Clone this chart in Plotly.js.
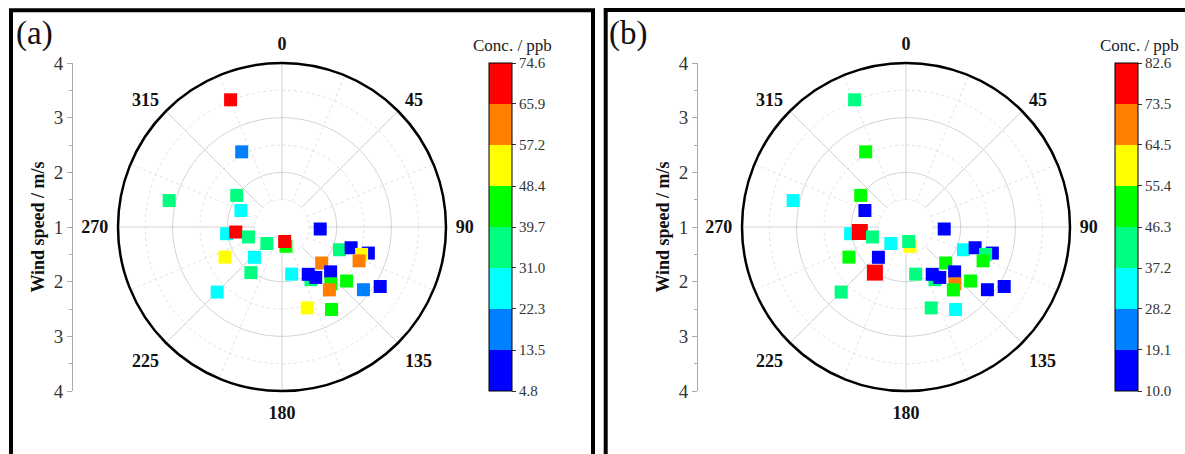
<!DOCTYPE html>
<html>
<head>
<meta charset="utf-8">
<script src="https://cdn.plot.ly/plotly-3.0.1.min.js"></script>
<style>html,body{margin:0;padding:0;background:#fff;}#chart{width:1185px;height:454px;}</style>
</head>
<body>
<div id="chart"></div>
<script>
// Wind direction (deg, clockwise from north) and wind speed (m/s), shared by both panels
const windDir = [304.9, 291.9, 263.1, 263.8, 253.5, 222.5, 168.3, 169.6, 242.2, 222.3, 214.3, 224.9, 93.0, 111.6, 106.7, 106.8, 109.0, 113.7, 132.2, 168.4, 151.2, 151.0, 146.2, 132.7, 139.3, 143.0, 129.9, 127.6, 121.2, 162.7, 149.0, 338.0, 331.8, 283.2];
const windSpeed = [2.01, 1.81, 2.02, 1.85, 1.64, 1.41, 1.36, 1.27, 2.18, 1.75, 2.01, 2.68, 1.70, 2.13, 2.32, 2.65, 2.54, 2.54, 1.98, 1.88, 2.10, 1.99, 2.11, 2.21, 2.37, 2.44, 2.54, 2.88, 3.10, 2.55, 2.76, 3.51, 2.56, 3.12];
// Concentrations (ppb)
const concA = [35.2, 27.4, 25.1, 70.3, 33.8, 36.5, 42.6, 72.9, 52.3, 28.6, 34.1, 24.9, 10.2, 37.3, 8.6, 11.4, 50.7, 60.8, 63.2, 29.5, 32.6, 7.9, 12.1, 9.4, 45.3, 59.6, 43.8, 18.7, 6.5, 54.1, 46.9, 74.6, 16.9, 38.2];
const concB = [50.2, 14.6, 31.5, 82.6, 41.3, 34.2, 58.9, 39.8, 52.4, 16.2, 80.1, 43.7, 12.3, 30.8, 15.7, 13.4, 44.9, 48.6, 53.1, 40.6, 38.5, 11.8, 17.2, 14.1, 68.3, 49.7, 47.5, 13.0, 10.0, 42.2, 32.9, 45.1, 51.8, 29.6];
// Colour bar level boundaries
const levelsA = [4.8, 13.5, 22.3, 31.0, 39.7, 48.4, 57.2, 65.9, 74.6];
const levelsB = [10.0, 19.1, 28.2, 37.2, 46.3, 55.4, 64.5, 73.5, 82.6];
// Angular tick labels
const dirTicks = [0, 45, 90, 135, 180, 225, 270, 315];
// Left speed axis
const speedTickVals = [-3, -2, -1, 0, 1, 2, 3];
const speedTickText = ['4', '3', '2', '1', '2', '3', '4'];

const bandColors = ['#0000ff', '#0080ff', '#00ffff', '#00ff80', '#00ff00', '#ffff00', '#ff8000', '#ff0000'];
const W = 1185, H = 454;
const px = v => v / W, py = v => 1 - v / H;
const serif = 'Liberation Serif';

function discreteScale(levels) {
  const lo = levels[0], hi = levels[levels.length - 1];
  const cs = [];
  for (let i = 0; i < bandColors.length; i++) {
    const a = (levels[i] - lo) / (hi - lo), b = (levels[i + 1] - lo) / (hi - lo);
    cs.push([a, bandColors[i]]); cs.push([b, bandColors[i]]);
  }
  return cs;
}

function gridTraces(subplot) {
  const t = [];
  const sr = [], st = [], dr = [], dt = [];
  for (let a = 0; a < 360; a += 45) { st.push(a, a, null); sr.push(1.5, 4, null); }
  for (let a = 22.5; a < 360; a += 45) { dt.push(a, a, null); dr.push(1.5, 4, null); }
  t.push({type: 'scatterpolar', subplot, mode: 'lines', r: sr, theta: st, line: {color: '#d2d2d2', width: 1}, hoverinfo: 'skip', showlegend: false, connectgaps: false});
  t.push({type: 'scatterpolar', subplot, mode: 'lines', r: dr, theta: dt, line: {color: '#e2e2e2', width: 1, dash: 'dot'}, hoverinfo: 'skip', showlegend: false, connectgaps: false});
  [[1.5, true], [2, false], [2.5, true], [3, false], [3.5, true]].forEach(([rad, dotted]) => {
    const th = [], rr = [];
    for (let a = 0; a <= 360; a += 2) { th.push(a); rr.push(rad); }
    t.push({type: 'scatterpolar', subplot, mode: 'lines', r: rr, theta: th,
      line: {color: dotted ? '#e2e2e2' : '#d2d2d2', width: 1, dash: dotted ? 'dot' : 'solid'}, hoverinfo: 'skip', showlegend: false});
  });
  return t;
}

function dataTrace(subplot, conc, caxis) {
  return {type: 'scatterpolar', subplot, mode: 'markers', r: windSpeed, theta: windDir,
    marker: {symbol: 'square', size: conc.map(v => v > 78 ? 16 : 13), color: conc, coloraxis: caxis, opacity: 1, line: {width: 0}},
    opacity: 1, showlegend: false, hovertemplate: '%{theta}°, %{r} m/s<br>%{marker.color} ppb<extra></extra>'};
}

const traces = [
  ...gridTraces('polar'), dataTrace('polar', concA, 'coloraxis'),
  ...gridTraces('polar2'), dataTrace('polar2', concB, 'coloraxis2'),
  {type: 'scatter', x: [], y: [], xaxis: 'x', yaxis: 'y', showlegend: false},
  {type: 'scatter', x: [], y: [], xaxis: 'x2', yaxis: 'y2', showlegend: false}
];

function polarLayout(x0, x1) {
  return {
    domain: {x: [px(x0), px(x1)], y: [py(391), py(63)]},
    bgcolor: 'rgba(0,0,0,0)',
    radialaxis: {range: [1, 4], showgrid: false, showline: false, showticklabels: false, ticks: ''},
    angularaxis: {rotation: 90, direction: 'clockwise', tickmode: 'array', tickvals: dirTicks, ticktext: dirTicks.map(String),
      showgrid: false, showline: true, linecolor: '#000', linewidth: 2.5, ticks: 'outside', ticklen: 5, tickcolor: 'rgba(0,0,0,0)',
      tickfont: {family: serif, size: 18, color: '#111', weight: 'bold'}}
  };
}

function speedAxis(pos) {
  return {anchor: 'free', position: pos, domain: [py(391), py(63)], range: [-3, 3],
    tickmode: 'array', tickvals: speedTickVals, ticktext: speedTickText,
    ticks: 'outside', ticklen: 5, tickcolor: '#aaa', showline: true, linecolor: '#aaa', linewidth: 1,
    minor: {tickmode: 'linear', tick0: 0, dtick: 0.5, ticks: 'outside', ticklen: 3, tickcolor: '#aaa'},
    showgrid: false, zeroline: false, fixedrange: true,
    tickfont: {family: serif, size: 19, color: '#333'},
    title: {text: 'Wind speed / m/s', font: {family: serif, size: 18, color: '#111', weight: 'bold'}, standoff: 3}};
}

function colorAxis(levels, xpos) {
  return {
    cmin: levels[0], cmax: levels[levels.length - 1], colorscale: discreteScale(levels), showscale: true,
    colorbar: {x: px(xpos), xanchor: 'left', xpad: 0, ypad: 0, y: 0.5, yanchor: 'middle',
      len: 328, lenmode: 'pixels', thickness: 23, thicknessmode: 'pixels',
      outlinecolor: '#000', outlinewidth: 1,
      tickmode: 'array', tickvals: levels, ticktext: levels.map(v => v.toFixed(1)),
      ticks: 'outside', ticklen: 4, tickcolor: '#333', tickwidth: 1,
      tickfont: {family: serif, size: 15, color: '#333'}}
  };
}

const layout = {
  width: W, height: H, margin: {l: 0, r: 0, t: 0, b: 0, pad: 0},
  paper_bgcolor: '#fff', plot_bgcolor: 'rgba(0,0,0,0)', showlegend: false,
  polar: polarLayout(118, 446),
  polar2: polarLayout(742, 1070),
  xaxis: {domain: [px(72), px(73)], visible: false, fixedrange: true},
  xaxis2: {domain: [px(697), px(698)], visible: false, fixedrange: true},
  yaxis: speedAxis(px(72)),
  yaxis2: speedAxis(px(697)),
  coloraxis: colorAxis(levelsA, 489),
  coloraxis2: colorAxis(levelsB, 1115),
  shapes: [
    {type: 'rect', xref: 'paper', yref: 'paper', x0: px(11), x1: px(593), y0: -0.1, y1: py(10.3), line: {color: '#000', width: 4}},
    {type: 'rect', xref: 'paper', yref: 'paper', x0: px(605.7), x1: 1.05, y0: -0.1, y1: py(10), line: {color: '#000', width: 4}}
  ],
  annotations: [
    {text: '(a)', xref: 'paper', yref: 'paper', x: px(14), y: py(33), xanchor: 'left', yanchor: 'middle', showarrow: false, font: {family: serif, size: 33, color: '#111'}},
    {text: '(b)', xref: 'paper', yref: 'paper', x: px(607), y: py(33), xanchor: 'left', yanchor: 'middle', showarrow: false, font: {family: serif, size: 33, color: '#111'}},
    {text: 'Conc. / ppb', xref: 'paper', yref: 'paper', x: px(512), y: py(45), xanchor: 'center', yanchor: 'middle', showarrow: false, font: {family: serif, size: 17, color: '#222'}},
    {text: 'Conc. / ppb', xref: 'paper', yref: 'paper', x: px(1139), y: py(45), xanchor: 'center', yanchor: 'middle', showarrow: false, font: {family: serif, size: 17, color: '#222'}}
  ]
};

Plotly.newPlot('chart', traces, layout, {displayModeBar: false, staticPlot: true});
</script>
</body>
</html>
